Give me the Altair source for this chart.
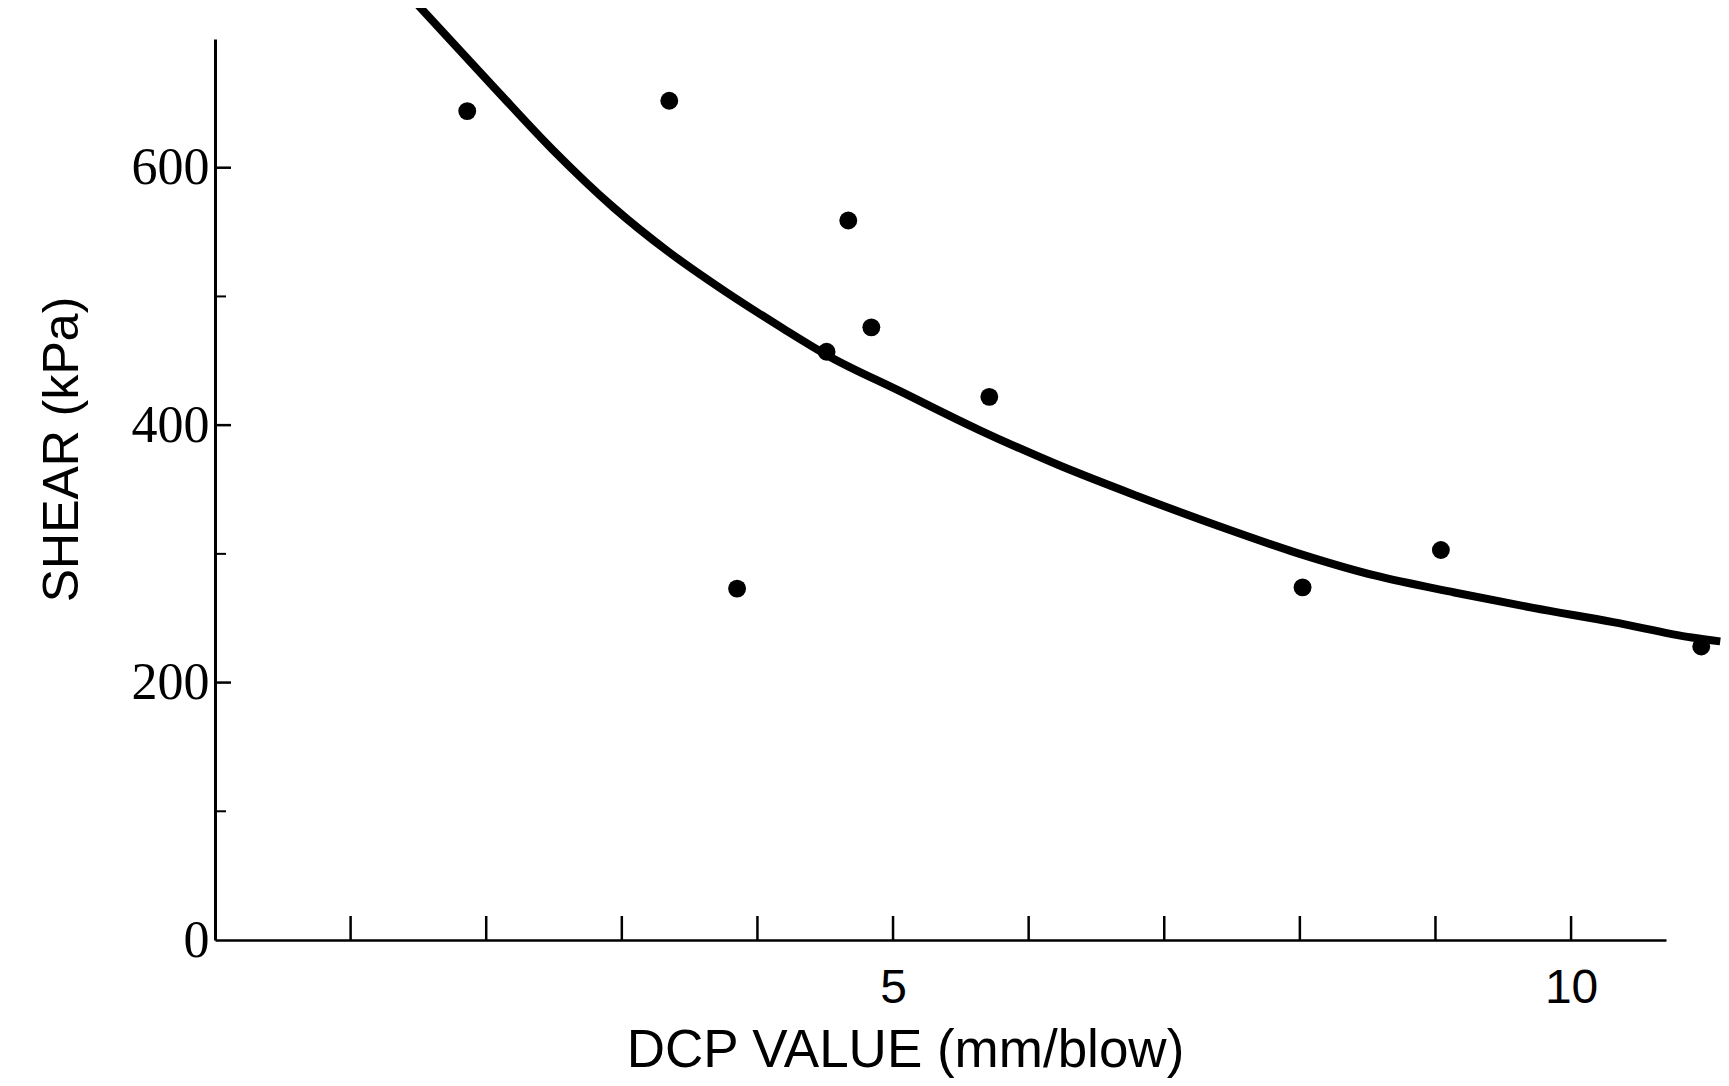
import altair as alt
import pandas as pd

# Measured data points (DCP value mm/blow, shear kPa)
dcp = [1.86, 3.35, 3.85, 4.51, 4.67, 4.84, 5.71, 8.02, 9.04, 10.96]
shear = [644, 652, 273, 457, 559, 476, 422, 274, 303, 228]

# Fitted curve
curve_dcp = [1.50, 2.07, 2.49, 2.94, 3.34, 3.76, 4.19, 4.52, 5.04, 5.64, 6.22,
             6.80, 7.39, 7.97, 8.56, 9.14, 9.72, 10.31, 10.89, 11.10]
curve_shear = [726, 661, 614, 569, 535, 504, 475, 454, 427, 396, 369,
               345, 322, 301, 283, 270, 258, 247, 235, 232]

# Axis ticks
y_major = [200, 400, 600]
y_minor = [100, 300, 500]
y_labels = [0, 200, 400, 600]
x_ticks = [1, 2, 3, 4, 5, 6, 7, 8, 9, 10]
x_labels = [5, 10]

W, H = 1451, 901
xscale = alt.Scale(domain=[0, 10.7], nice=False, zero=False)
yscale = alt.Scale(domain=[0, 700], nice=False, zero=False)

pts = pd.DataFrame({"dcp": dcp, "shear": shear})
crv = pd.DataFrame({"dcp": curve_dcp, "shear": curve_shear})
ymaj = pd.DataFrame({"v": y_major})
ymin = pd.DataFrame({"v": y_minor})
xt = pd.DataFrame({"v": x_ticks})

x_axis = alt.Axis(
    values=x_labels, ticks=False, tickSize=0, grid=False,
    domainColor="black", domainWidth=2.5,
    labelFont="Liberation Sans Narrow, Liberation Sans", labelFontSize=48,
    labelColor="black", labelPadding=24,
    title="DCP VALUE (mm/blow)", titleFont="Liberation Sans", titleFontSize=53,
    titleFontWeight="normal", titleColor="black",
    titleX=690, titleY=126, titleAlign="center", titleBaseline="alphabetic",
)
y_axis = alt.Axis(
    values=y_labels, ticks=False, tickSize=0, grid=False,
    domainColor="black", domainWidth=3,
    labelFont="Liberation Serif", labelFontSize=52, labelColor="black",
    labelPadding=6,
    title="SHEAR (kPa)", titleFont="Liberation Sans", titleFontSize=50,
    titleFontWeight="normal", titleColor="black",
    titleAngle=270, titleX=-138, titleY=410, titleAlign="center",
    titleBaseline="alphabetic",
)

points = alt.Chart(pts).mark_circle(size=320, color="black", opacity=1).encode(
    x=alt.X("dcp:Q", scale=xscale, axis=x_axis),
    y=alt.Y("shear:Q", scale=yscale, axis=y_axis),
)

curve = alt.Chart(crv).mark_line(color="black", strokeWidth=8, interpolate="monotone").encode(
    x=alt.X("dcp:Q", scale=xscale, axis=x_axis),
    y=alt.Y("shear:Q", scale=yscale, axis=y_axis),
)

ytick_major = alt.Chart(ymaj).mark_rule(color="black", strokeWidth=2.5).encode(
    y=alt.Y("v:Q", scale=yscale, axis=y_axis),
    x=alt.value(0), x2=alt.value(16),
)
ytick_minor = alt.Chart(ymin).mark_rule(color="black", strokeWidth=2).encode(
    y=alt.Y("v:Q", scale=yscale, axis=y_axis),
    x=alt.value(0), x2=alt.value(11),
)
xtick = alt.Chart(xt).mark_rule(color="black", strokeWidth=2.5).encode(
    x=alt.X("v:Q", scale=xscale, axis=x_axis),
    y=alt.value(H), y2=alt.value(H - 24),
)

chart = alt.layer(points, curve, ytick_major, ytick_minor, xtick).properties(
    width=W, height=H,
    padding={"left": 207, "top": 31, "right": 55, "bottom": 138},
    autosize=alt.AutoSizeParams(type="none"),
    background="white",
).configure_view(stroke=None)

chart.save("out.html", embed_options={"renderer": "svg", "actions": False})
